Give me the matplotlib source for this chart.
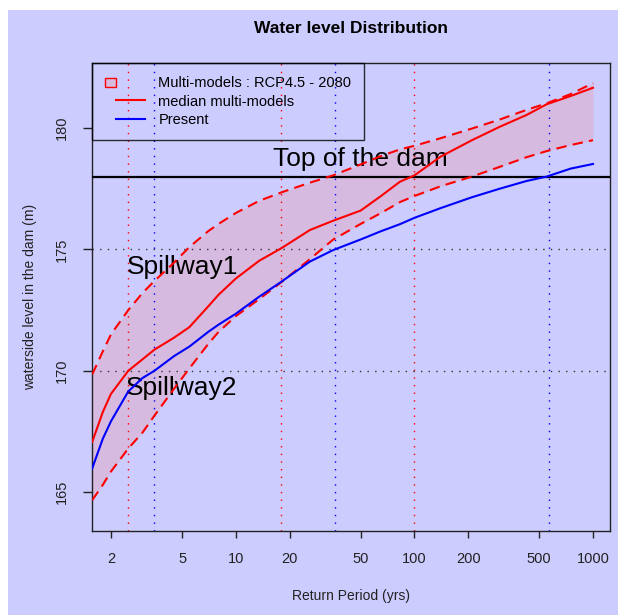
import matplotlib.pyplot as plt
from matplotlib.patches import Rectangle, Patch
from matplotlib.lines import Line2D
from matplotlib.legend_handler import HandlerPatch, HandlerLine2D
from matplotlib.ticker import NullLocator

plt.rcParams['font.family'] = ['Liberation Sans', 'DejaVu Sans']

# return periods (years) and water levels (m)
rp = [1.57, 1.8, 2, 2.5, 3, 3.5, 4.5, 5.5, 7, 8, 10, 13.5, 18, 26, 35, 50,
      65, 83, 100, 140, 210, 300, 425, 550, 750, 1000]
median_rcp = [167.07, 168.3, 169.05, 170.0, 170.47, 170.87, 171.36, 171.8,
              172.65, 173.13, 173.8, 174.53, 175.05, 175.8, 176.18, 176.6,
              177.2, 177.79, 178.05, 178.82, 179.5, 180.05, 180.54, 180.98,
              181.32, 181.66]
upper_rcp = [169.85, 170.8, 171.5, 172.5, 173.2, 173.7, 174.45, 175.1,
             175.75, 176.05, 176.5, 177.0, 177.35, 177.75, 178.05, 178.5,
             178.85, 179.12, 179.27, 179.58, 179.98, 180.35, 180.75, 181.02,
             181.4, 181.85]
lower_rcp = [164.67, 165.3, 165.85, 166.8, 167.45, 168.15, 169.25, 170.1,
             171.1, 171.6, 172.25, 172.95, 173.65, 174.6, 175.4, 176.05,
             176.5, 176.95, 177.2, 177.6, 178.0, 178.4, 178.8, 179.05,
             179.3, 179.5]
present = [165.98, 167.2, 167.92, 169.15, 169.7, 170.0, 170.6, 171.0,
           171.6, 171.9, 172.35, 173.05, 173.67, 174.5, 174.97, 175.41,
           175.75, 176.04, 176.3, 176.7, 177.15, 177.5, 177.82, 178.0,
           178.33, 178.52]

dam_top = 178
spillways = [175, 170]
rp_marks_rcp = [2.5, 18, 100]
rp_marks_present = [3.5, 36, 570]
xticks = [2, 5, 10, 20, 50, 100, 200, 500, 1000]
yticks = [165, 170, 175, 180]

band_col = '#d6bae0'
dots = (0, (1, 4.5))

fig = plt.figure(figsize=(6.18, 6.15), dpi=100)
fig.patches.append(Rectangle((8 / 618, 0), 1, 605 / 615, transform=fig.transFigure,
                             facecolor='#ccccff', edgecolor='none', zorder=-1))
ax = fig.add_axes([92 / 618, 1 - 531 / 615, 518 / 618, 468 / 615])
ax.set_facecolor('none')

ax.fill_between(rp, lower_rcp, upper_rcp, color=band_col, lw=0, zorder=1)

for x in rp_marks_rcp:
    ax.axvline(x, color='red', ls=dots, lw=1, zorder=2)
for x in rp_marks_present:
    ax.axvline(x, color='blue', ls=dots, lw=1, zorder=2)
for y in spillways:
    ax.axhline(y, color='#333333', ls=dots, lw=1, zorder=2)
ax.axhline(dam_top, color='black', lw=1.6, zorder=3)

ax.plot(rp, upper_rcp, color='red', ls=(0, (5, 3)), lw=1.5, zorder=4)
ax.plot(rp, lower_rcp, color='red', ls=(0, (5, 3)), lw=1.5, zorder=4)
ax.plot(rp, median_rcp, color='red', lw=1.5, zorder=5)
ax.plot(rp, present, color='blue', lw=1.5, zorder=5)

ax.text(50, 178.42, 'Top of the dam', fontsize=19, ha='center', va='baseline')
ax.text(5, 174.0, 'Spillway1', fontsize=19, ha='center', va='baseline')
ax.text(5, 169.0, 'Spillway2', fontsize=19, ha='center', va='baseline')

ax.set_xscale('log')
ax.set_xlim(1.566, 1245)
ax.set_ylim(163.4, 182.68)
ax.set_xticks(xticks)
ax.set_xticklabels([str(t) for t in xticks])
ax.xaxis.set_minor_locator(NullLocator())
ax.set_yticks(yticks)
ax.set_yticklabels([str(t) for t in yticks], rotation=90, va='center')
ax.tick_params(length=5, width=1, color='#222222', labelcolor='#222222', labelsize=10.5)
ax.tick_params(axis='x', pad=10)
ax.tick_params(axis='y', length=6.5, pad=10)
for s in ax.spines.values():
    s.set_color('#222222')
    s.set_linewidth(1)

ax.set_xlabel('Return Period (yrs)', fontsize=10, color='#222222', va='center')
ax.xaxis.set_label_coords(0.5, -65 / 468)
ax.set_ylabel('waterside level in the dam (m)', fontsize=10, color='#222222', va='center')
ax.yaxis.set_label_coords(-62 / 518, 0.5)
ax.set_title('Water level Distribution', fontweight='bold', fontsize=12.5, pad=21.5)


# legend: small box on the left for the band, lines to its right
def box_left(legend, orig_handle, xdescent, ydescent, width, height, fontsize):
    return Rectangle((-xdescent, -ydescent + 0.05 * height), 0.28 * width, 0.85 * height)


class ShiftedLine(HandlerLine2D):
    def create_artists(self, legend, orig_handle, xdescent, ydescent, width, height,
                       fontsize, trans):
        shift = 0.28 * width
        return super().create_artists(legend, orig_handle, xdescent - shift, ydescent,
                                      width - shift, height, fontsize, trans)


band_h = Patch(facecolor=band_col, edgecolor='red', lw=1)
med_h = Line2D([], [], color='red', lw=1.5)
pres_h = Line2D([], [], color='blue', lw=1.5)
leg = ax.legend([band_h, med_h, pres_h],
                ['Multi-models : RCP4.5 - 2080', 'median multi-models', 'Present'],
                handler_map={Patch: HandlerPatch(patch_func=box_left),
                             Line2D: ShiftedLine()},
                loc='upper left', bbox_to_anchor=(0, 1), borderaxespad=0,
                fontsize=10.5, fancybox=False, edgecolor='black', facecolor='none',
                handlelength=2.7, handletextpad=0.95, borderpad=0.9, labelspacing=0.3)
leg.get_frame().set_linewidth(1)
leg.set_zorder(6)

fig.savefig('out.png', dpi=100)
